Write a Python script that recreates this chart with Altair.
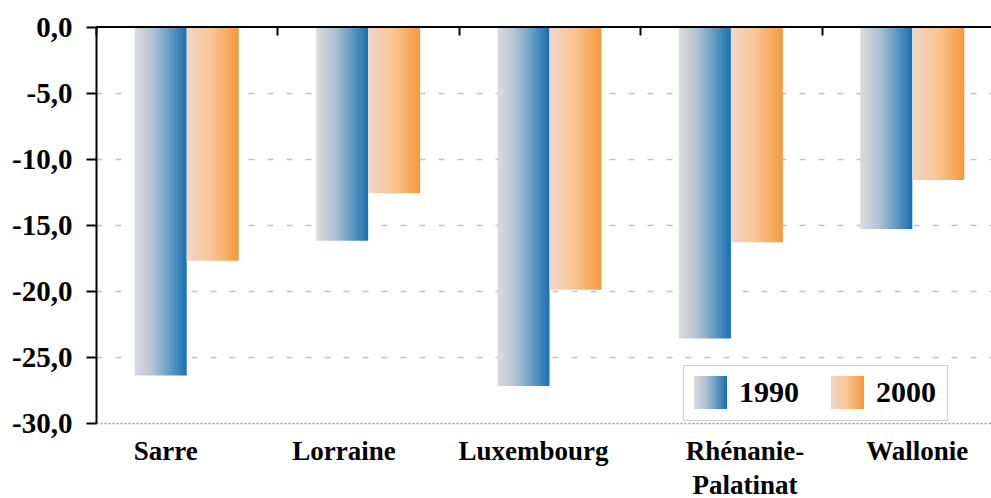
import altair as alt
import pandas as pd

# Regions and yearly values
regions = ["Sarre", "Lorraine", "Luxembourg", "Rhénanie-Palatinat", "Wallonie"]
years = ["1990", "2000"]
values_1990 = [-26.4, -16.2, -27.2, -23.6, -15.3]
values_2000 = [-17.7, -12.6, -19.9, -16.3, -11.6]
y_ticks = [0, -5, -10, -15, -20, -25, -30]

rows = []
for region, v1990, v2000 in zip(regions, values_1990, values_2000):
    rows.append({"Région": region, "Année": years[0], "Valeur": v1990})
    rows.append({"Région": region, "Année": years[1], "Valeur": v2000})
df = pd.DataFrame(rows)

FONT = "Liberation Serif"


def gradient_expr(stops):
    """Vega expression that evaluates to a left-to-right linear gradient."""
    parts = ", ".join(f"{{offset: {o}, color: '{c}'}}" for o, c in stops)
    return ("{gradient: 'linear', x1: 0, y1: 0, x2: 1, y2: 0, stops: [" + parts + "]}")


blue_stops = [(0, "#dcdcdc"), (0.35, "#b2c3d3"), (0.65, "#6a9fc4"), (1, "#1670b2")]
orange_stops = [(0, "#f0d6ca"), (0.5, "#f8c590"), (1, "#f5993b")]

x_scale = alt.Scale(domain=regions, range=[0, 907], paddingInner=0.427, paddingOuter=0.2135)
y_scale = alt.Scale(domain=[-30, 0], nice=False)

y_axis = alt.Axis(
    values=y_ticks,
    labelExpr="datum.value == 0 ? '0,0' : datum.value + ',0'",
    title=None,
    domainColor="black",
    domainWidth=2,
    tickColor="black",
    tickWidth=2,
    tickSize=10,
    labelFont=FONT,
    labelFontSize=29,
    labelFontWeight="bold",
    labelColor="black",
    labelPadding=14,
    grid=True,
    gridColor="#c4c4c4",
    gridDash=[6, 13],
    gridWidth=1.5,
    gridOpacity={"condition": {"test": "datum.value <= -30 || datum.value >= 0", "value": 0}, "value": 1},
)

# Region names sit slightly off their band centres
label_shift = (
    "datum.value == 'Sarre' ? -21 : datum.value == 'Lorraine' ? -24 : "
    "datum.value == 'Luxembourg' ? -16 : datum.value == 'Rhénanie-Palatinat' ? 14 : 5"
)

bottom_axis = alt.Axis(
    orient="bottom",
    title=None,
    domain=True,
    domainColor="#9a9a9a",
    domainDash=[2, 2],
    domainWidth=1.5,
    ticks=False,
    labelAngle=0,
    labelFont=FONT,
    labelFontSize=27,
    labelFontWeight="bold",
    labelColor="black",
    labelPadding=15,
    labelLineHeight=34,
    labelBaseline="top",
    labelOffset={"expr": label_shift},
    labelExpr=(
        "indexof(datum.label, '-') > 0 ? "
        "[slice(datum.label, 0, indexof(datum.label, '-') + 1), "
        "slice(datum.label, indexof(datum.label, '-') + 1)] : datum.label"
    ),
)

top_axis = alt.Axis(
    orient="top",
    title=None,
    labels=False,
    domain=False,
    ticks=True,
    bandPosition=0,
    tickOffset=-38.7,
    tickSize=8,
    tickWidth=2,
    tickColor="black",
    offset=-8,
    grid=False,
    zindex=1,
)

bars = alt.Chart(df).mark_bar().encode(
    x=alt.X("Région:N", scale=x_scale, axis=bottom_axis, sort=regions),
    xOffset=alt.XOffset("Année:N", scale=alt.Scale(domain=years, paddingInner=0, paddingOuter=0)),
    y=alt.Y("Valeur:Q", scale=y_scale, axis=y_axis),
    color=alt.Color(
        "Année:N",
        scale=alt.Scale(
            domain=years,
            range=[{"expr": gradient_expr(blue_stops)}, {"expr": gradient_expr(orange_stops)}],
        ),
        legend=alt.Legend(
            title=None,
            orient="none",
            legendX=587,
            legendY=338,
            direction="horizontal",
            symbolType="square",
            symbolSize=1089,
            symbolStrokeWidth=0,
            labelFont=FONT,
            labelFontSize=30,
            labelFontWeight="bold",
            labelColor="black",
            labelOffset=12,
            columnPadding=32,
            padding=11,
            strokeColor="#cccccc",
            fillColor="white",
        ),
    ),
)

# Category separators hanging from the zero line
separators = alt.Chart(df).mark_bar(opacity=0).encode(
    x=alt.X("Région:N", scale=x_scale, axis=top_axis, sort=regions),
    y=alt.Y("Valeur:Q", scale=y_scale, axis=y_axis),
)

zero_line = alt.Chart(pd.DataFrame({"zéro": [0]})).mark_rule(color="black", strokeWidth=2).encode(
    y=alt.Y("zéro:Q", scale=y_scale, axis=y_axis)
)

chart = (
    alt.layer(bars, separators, zero_line)
    .resolve_axis(x="independent")
    .properties(
        width=895,
        height=396,
        padding={"left": 96, "top": 27, "right": 0, "bottom": 75},
        autosize=alt.AutoSizeParams(type="none"),
        background="white",
    )
    .configure_view(stroke=None)
)

chart.save("out.html", embed_options={"renderer": "svg", "actions": False})
